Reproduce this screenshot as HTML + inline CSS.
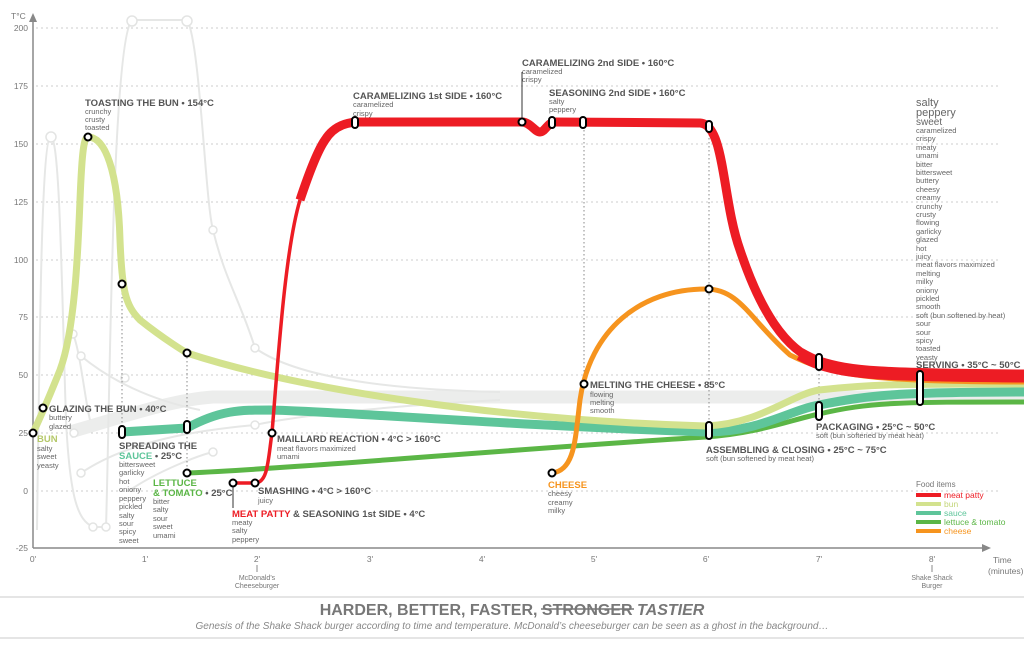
<!DOCTYPE html>
<html><head><meta charset="utf-8"><style>
body{margin:0;background:#fff}
svg{display:block;font-family:"Liberation Sans",sans-serif}
.h{font-size:9.5px;fill:#555;font-weight:bold}
.s{font-size:7.5px;fill:#666}
.tk{font-size:8.5px;fill:#777}
.g{fill:none;stroke:#e6e7e6;stroke-width:2}
.gd{fill:#fff;stroke:#e3e4e3;stroke-width:1.5}
.d{fill:#fff;stroke:#000;stroke-width:2}
.dl{stroke:#888;stroke-width:1;stroke-dasharray:1.5 2.5}
.gl{stroke:#ccc;stroke-width:1;stroke-dasharray:2 3}
</style></head><body>
<svg width="1024" height="663" viewBox="0 0 1024 663">
<g class="gl">
<line x1="36" y1="28" x2="1000" y2="28"/><line x1="36" y1="86" x2="1000" y2="86"/>
<line x1="36" y1="144" x2="1000" y2="144"/><line x1="36" y1="202" x2="1000" y2="202"/>
<line x1="36" y1="260" x2="1000" y2="260"/><line x1="36" y1="317" x2="1000" y2="317"/>
<line x1="36" y1="375" x2="1000" y2="375"/><line x1="36" y1="433" x2="1000" y2="433"/>
<line x1="36" y1="491" x2="1000" y2="491"/>
</g>
<path d="M70,432 C120,418 170,400 213,397 L1024,397" fill="none" stroke="#ecedec" stroke-width="13"/>
<path class="g" d="M37,530 C40,300 42,137 51,137 C60,137 62,300 66,420 C70,500 78,520 93,527 L106,527 C110,400 112,40 132,20 L187,20 C200,40 205,200 213,230 C225,280 240,300 255,348 C300,380 400,390 500,392"/>
<path class="g" d="M73,334 C80,350 85,400 90,420 M81,356 C110,380 150,400 200,410 M81,473 C130,440 200,430 255,425 C300,415 400,405 500,400 M130,490 C160,470 200,455 213,452"/>
<circle class="gd" cx="51" cy="137" r="5"/><circle class="gd" cx="132" cy="21" r="5"/><circle class="gd" cx="187" cy="21" r="5"/>
<circle class="gd" cx="213" cy="230" r="4"/><circle class="gd" cx="73" cy="334" r="4"/><circle class="gd" cx="81" cy="356" r="4"/>
<circle class="gd" cx="81" cy="473" r="4"/><circle class="gd" cx="93" cy="527" r="4"/><circle class="gd" cx="106" cy="527" r="4"/>
<circle class="gd" cx="255" cy="348" r="4"/><circle class="gd" cx="255" cy="425" r="4"/><circle class="gd" cx="213" cy="452" r="4"/>
<circle class="gd" cx="125" cy="378" r="4"/><circle class="gd" cx="74" cy="433" r="4"/>
<line x1="33" y1="20" x2="33" y2="548" stroke="#888" stroke-width="1.5"/>
<path d="M29,22 L33,13 L37,22Z" fill="#888"/>
<line x1="33" y1="548" x2="985" y2="548" stroke="#888" stroke-width="1.5"/>
<path d="M982,544 L991,548 L982,552Z" fill="#888"/>
<text x="11" y="19" class="tk" font-size="9.5">T°C</text>
<g class="tk" text-anchor="end">
<text x="28" y="31">200</text><text x="28" y="89">175</text><text x="28" y="147">150</text><text x="28" y="205">125</text>
<text x="28" y="263">100</text><text x="28" y="320">75</text><text x="28" y="378">50</text><text x="28" y="436">25</text>
<text x="28" y="494">0</text><text x="28" y="551">-25</text>
</g>
<g class="tk" text-anchor="middle">
<text x="33" y="562">0'</text><text x="145" y="562">1'</text><text x="257" y="562">2'</text><text x="370" y="562">3'</text>
<text x="482" y="562">4'</text><text x="594" y="562">5'</text><text x="706" y="562">6'</text><text x="819" y="562">7'</text><text x="932" y="562">8'</text>
<text x="257" y="580" font-size="7">McDonald's</text><text x="257" y="588" font-size="7">Cheeseburger</text>
<text x="932" y="580" font-size="7">Shake Shack</text><text x="932" y="588" font-size="7">Burger</text>
</g>
<text x="993" y="563" class="tk" font-size="9">Time</text><text x="988" y="574" class="tk" font-size="9">(minutes)</text>
<line x1="257" y1="565" x2="257" y2="572" stroke="#888"/><line x1="932" y1="565" x2="932" y2="572" stroke="#888"/>
<g class="dl">
<line x1="122" y1="285" x2="122" y2="432"/><line x1="187" y1="353" x2="187" y2="473"/>
<line x1="584" y1="122" x2="584" y2="384"/><line x1="709" y1="126" x2="709" y2="432"/>
<line x1="819" y1="362" x2="819" y2="410"/>
</g>
<line x1="233" y1="483" x2="233" y2="508" stroke="#333"/>
<line x1="522" y1="72" x2="522" y2="122" stroke="#333"/>
<path d="M187,473 C300,468 500,450 706,437 C760,433 790,420 819,414 C870,402 900,402 1024,402" fill="none" stroke="#5bb646" stroke-width="5"/>
<path d="M122,432 L187,428 C220,410 240,410 270,410 C350,412 500,425 706,432 C760,432 790,410 819,405 C870,395 900,392 1024,392" fill="none" stroke="#5ec59a" stroke-width="9"/>
<path d="M33,433 C40,418 48,400 60,370 C75,330 78,250 80,200 C82,150 84,137 88,137 C105,137 118,170 120,240 C122,290 125,305 140,320 C165,340 187,353 187,353 C300,390 500,420 706,426 C760,424 790,395 819,390 C870,384 900,384 1024,384" fill="none" stroke="#d3e28e" stroke-width="7"/>
<path d="M552,473 C575,470 575,440 580,400 C590,330 640,289 706,289 C740,289 750,320 790,355 C830,375 870,382 1024,382" fill="none" stroke="#f6941e" stroke-width="5"/>
<path d="M233,483 L255,483 C268,483 268,460 272,433 C278,360 285,250 300,200" fill="none" stroke="#ed1c24" stroke-width="3.5"/>
<path d="M300,200 C310,170 318,150 325,140 C335,124 350,122 360,122 L522,122 C530,122 535,132 540,132 C545,132 548,122 555,122 L700,123 C725,124 722,200 740,250 C760,310 785,350 819,362" fill="none" stroke="#ed1c24" stroke-width="9"/>
<path d="M800,354 C807,358 813,361 819,363 C850,373 880,375 1024,376" fill="none" stroke="#ed1c24" stroke-width="13"/>
<circle class="d" cx="33" cy="433" r="3.5"/><circle class="d" cx="43" cy="408" r="3.5"/><circle class="d" cx="88" cy="137" r="3.5"/>
<circle class="d" cx="122" cy="284" r="3.5"/><circle class="d" cx="187" cy="353" r="3.5"/><circle class="d" cx="187" cy="473" r="3.5"/>
<circle class="d" cx="233" cy="483" r="3.5"/><circle class="d" cx="255" cy="483" r="3.5"/><circle class="d" cx="272" cy="433" r="3.5"/>
<circle class="d" cx="552" cy="473" r="3.5"/><circle class="d" cx="584" cy="384" r="3.5"/><circle class="d" cx="709" cy="289" r="3.5"/>
<circle class="d" cx="522" cy="122" r="3.5"/>
<rect class="d" x="119" y="426" width="6" height="12" rx="3"/><rect class="d" x="184" y="421" width="6" height="12" rx="3"/>
<rect class="d" x="352" y="117" width="6" height="11" rx="3"/><rect class="d" x="549" y="117" width="6" height="11" rx="3"/>
<rect class="d" x="580" y="117" width="6" height="11" rx="3"/><rect class="d" x="706" y="121" width="6" height="11" rx="3"/>
<rect class="d" x="706" y="422" width="6" height="17" rx="3"/><rect class="d" x="816" y="354" width="6" height="16" rx="3"/>
<rect class="d" x="816" y="402" width="6" height="18" rx="3"/><rect class="d" x="917" y="371" width="6" height="34" rx="3"/>
<text class="h" x="85" y="106">TOASTING THE BUN • 154°C</text>
<text class="s" x="85" y="114">crunchy</text><text class="s" x="85" y="122">crusty</text><text class="s" x="85" y="130">toasted</text>
<text class="h" x="49" y="412">GLAZING THE BUN • 40°C</text><text class="s" x="49" y="420">buttery</text><text class="s" x="49" y="429">glazed</text>
<text class="h" x="37" y="442" style="fill:#b5c86a">BUN</text>
<text class="s" x="37" y="451">salty</text><text class="s" x="37" y="459">sweet</text><text class="s" x="37" y="468">yeasty</text>
<text class="h" x="119" y="449">SPREADING THE</text>
<text class="h" x="119" y="459"><tspan style="fill:#5ec59a">SAUCE</tspan> • 25°C</text>
<g class="s"><text x="119" y="467">bittersweet</text><text x="119" y="475">garlicky</text><text x="119" y="484">hot</text><text x="119" y="492">oniony</text><text x="119" y="501">peppery</text><text x="119" y="509">pickled</text><text x="119" y="518">salty</text><text x="119" y="526">sour</text><text x="119" y="534">spicy</text><text x="119" y="543">sweet</text></g>
<text class="h" x="153" y="486" style="fill:#5bb646">LETTUCE</text>
<text class="h" x="153" y="496"><tspan style="fill:#5bb646">&amp; TOMATO</tspan> • 25°C</text>
<g class="s"><text x="153" y="504">bitter</text><text x="153" y="512">salty</text><text x="153" y="521">sour</text><text x="153" y="529">sweet</text><text x="153" y="538">umami</text></g>
<text class="h" x="258" y="494">SMASHING • 4°C &gt; 160°C</text><text class="s" x="258" y="503">juicy</text>
<text class="h" x="232" y="517"><tspan style="fill:#ed1c24">MEAT PATTY</tspan> &amp; SEASONING 1st SIDE • 4°C</text>
<g class="s"><text x="232" y="525">meaty</text><text x="232" y="533">salty</text><text x="232" y="542">peppery</text></g>
<text class="h" x="277" y="442">MAILLARD REACTION • 4°C &gt; 160°C</text><text class="s" x="277" y="451">meat flavors maximized</text><text class="s" x="277" y="459">umami</text>
<text class="h" x="353" y="99">CARAMELIZING 1st SIDE • 160°C</text><text class="s" x="353" y="107">caramelized</text><text class="s" x="353" y="116">crispy</text>
<text class="h" x="522" y="66">CARAMELIZING 2nd SIDE • 160°C</text><text class="s" x="522" y="74">caramelized</text><text class="s" x="522" y="82">crispy</text>
<text class="h" x="549" y="96">SEASONING 2nd SIDE • 160°C</text><text class="s" x="549" y="104">salty</text><text class="s" x="549" y="112">peppery</text>
<text class="h" x="590" y="388">MELTING THE CHEESE • 85°C</text><text class="s" x="590" y="397">flowing</text><text class="s" x="590" y="405">melting</text><text class="s" x="590" y="413">smooth</text>
<text class="h" x="548" y="488" style="fill:#f6941e">CHEESE</text><text class="s" x="548" y="496">cheesy</text><text class="s" x="548" y="505">creamy</text><text class="s" x="548" y="513">milky</text>
<text class="h" x="706" y="453">ASSEMBLING &amp; CLOSING • 25°C ~ 75°C</text><text class="s" x="706" y="461">soft (bun softened by meat heat)</text>
<text class="h" x="816" y="430">PACKAGING • 25°C ~ 50°C</text><text class="s" x="816" y="438">soft (bun softened by meat heat)</text>
<text class="h" x="916" y="368">SERVING • 35°C ~ 50°C</text>
<g fill="#666"><text x="916" y="106" font-size="11">salty</text><text x="916" y="116" font-size="11">peppery</text><text x="916" y="125" font-size="10">sweet</text></g>
<g class="s">
<text x="916" y="133">caramelized</text><text x="916" y="141">crispy</text><text x="916" y="150">meaty</text><text x="916" y="158">umami</text><text x="916" y="167">bitter</text><text x="916" y="175">bittersweet</text><text x="916" y="183">buttery</text><text x="916" y="192">cheesy</text><text x="916" y="200">creamy</text><text x="916" y="209">crunchy</text><text x="916" y="217">crusty</text><text x="916" y="225">flowing</text><text x="916" y="234">garlicky</text><text x="916" y="242">glazed</text><text x="916" y="251">hot</text><text x="916" y="259">juicy</text><text x="916" y="267">meat flavors maximized</text><text x="916" y="276">melting</text><text x="916" y="284">milky</text><text x="916" y="293">oniony</text><text x="916" y="301">pickled</text><text x="916" y="309">smooth</text><text x="916" y="318">soft (bun softened by heat)</text><text x="916" y="326">sour</text><text x="916" y="335">sour</text><text x="916" y="343">spicy</text><text x="916" y="351">toasted</text><text x="916" y="360">yeasty</text>
</g>
<text x="916" y="487" font-size="8" fill="#777">Food items</text>
<g font-size="8.5"><rect x="916" y="493" width="25" height="4" fill="#ed1c24"/><text x="944" y="498" fill="#ed1c24">meat patty</text>
<rect x="916" y="502" width="25" height="4" fill="#d3e28e"/><text x="944" y="507" fill="#c4d67a">bun</text>
<rect x="916" y="511" width="25" height="4" fill="#5ec59a"/><text x="944" y="516" fill="#5ec59a">sauce</text>
<rect x="916" y="520" width="25" height="4" fill="#5bb646"/><text x="944" y="525" fill="#5bb646">lettuce &amp; tomato</text>
<rect x="916" y="529" width="25" height="4" fill="#f6941e"/><text x="944" y="534" fill="#f6941e">cheese</text></g>
<line x1="0" y1="597" x2="1024" y2="597" stroke="#e5e5e5" stroke-width="2"/>
<line x1="0" y1="638" x2="1024" y2="638" stroke="#e5e5e5" stroke-width="2"/>
<text x="512" y="615" text-anchor="middle" font-size="16" font-weight="bold" fill="#777">HARDER, BETTER, FASTER, STRONGER <tspan font-style="italic">TASTIER</tspan></text>
<line x1="541" y1="609" x2="634" y2="609" stroke="#777" stroke-width="1.5"/>
<text x="512" y="629" text-anchor="middle" font-size="10" font-style="italic" fill="#888">Genesis of the Shake Shack burger according to time and temperature. McDonald’s cheeseburger can be seen as a ghost in the background…</text>
</svg>
</body></html>
